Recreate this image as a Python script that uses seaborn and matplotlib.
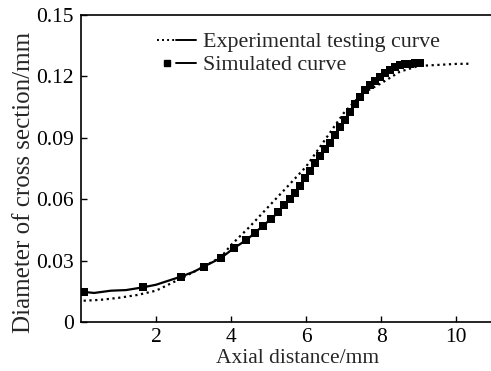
import numpy as np
import pandas as pd
import matplotlib
matplotlib.use("Agg")
import matplotlib.pyplot as plt
import seaborn as sns
from matplotlib.lines import Line2D
from matplotlib.legend_handler import HandlerTuple

# Experimental testing curve
exp_x = [0.07, 0.5, 1.0, 1.5, 2.0, 2.67, 3.27, 3.74, 4.0, 4.5, 5.0, 5.5, 6.0, 6.5, 7.0, 7.5, 8.0, 8.5, 9.0, 9.5, 10.0, 10.4]
exp_y = [0.0104, 0.0108, 0.0118, 0.0132, 0.0153, 0.0213, 0.0270, 0.0319, 0.0376, 0.0466, 0.0564, 0.0661, 0.0759, 0.0889, 0.1020, 0.1117, 0.1166, 0.1223, 0.1251, 0.1256, 0.1261, 0.1262]

# Simulated curve (line points; marker flags)
sim_x = [0.07, 0.35, 0.8, 1.2, 1.64, 2.0, 2.3, 2.67, 3.0, 3.27, 3.74, 4.07, 4.41, 4.64, 4.84, 5.06, 5.26, 5.41,
         5.57, 5.70, 5.84, 5.97, 6.10, 6.24, 6.37, 6.50, 6.64, 6.77, 6.90, 7.04, 7.17, 7.30, 7.44, 7.57,
         7.70, 7.84, 7.97, 8.10, 8.24, 8.37, 8.50, 8.64, 8.77, 8.91, 9.04]
sim_y = [0.0147, 0.0142, 0.0153, 0.0156, 0.0169, 0.0182, 0.0200, 0.0222, 0.0245, 0.0270, 0.0314, 0.0360, 0.0401,
         0.0436, 0.0469, 0.0502, 0.0537, 0.0572, 0.0601, 0.0632, 0.0666, 0.0702, 0.0739, 0.0775, 0.0811,
         0.0844, 0.0876, 0.0914, 0.0951, 0.0987, 0.1028, 0.1065, 0.1101, 0.1134, 0.1158, 0.1178, 0.1195,
         0.1215, 0.1231, 0.1244, 0.1254, 0.1259, 0.1262, 0.1264, 0.1264]
sim_marked = [True, False, False, False, True, False, False, True, False, True] + [True] * 35

x_ticks = [2, 4, 6, 8, 10]
y_ticks = [0, 0.03, 0.06, 0.09, 0.12, 0.15]
y_tick_labels = ["0", "0.03", "0.06", "0.09", "0.12", "0.15"]
x_label = "Axial distance/mm"
y_label = "Diameter of cross section/mm"
legend_labels = ["Experimental testing curve", "Simulated curve"]

sns.set_style("ticks")
plt.rcParams["font.family"] = ["Liberation Serif", "DejaVu Serif"]
plt.rcParams["xtick.direction"] = "in"
plt.rcParams["ytick.direction"] = "in"

fig = plt.figure(figsize=(4.91, 3.71), dpi=100)
ax = fig.add_axes([81 / 491, 49 / 371, 410 / 491, 307 / 371])

df_exp = pd.DataFrame({"x": exp_x, "y": exp_y})
df_sim = pd.DataFrame({"x": sim_x, "y": sim_y})

sns.lineplot(data=df_exp, x="x", y="y", ax=ax, color="black", linewidth=1.6,
             linestyle=(0, (1, 1.6)), sort=False)
mark_idx = [i for i, m in enumerate(sim_marked) if m]
sns.lineplot(data=df_sim, x="x", y="y", ax=ax, color="black", linewidth=1.6,
             marker="s", markersize=6.3, markevery=mark_idx, markeredgecolor="black",
             markeredgewidth=0, sort=False)

ax.set_xlim(0, 10.93)
ax.set_ylim(0, 0.15)
ax.set_xticks(x_ticks)
ax.set_xticklabels([str(t) for t in x_ticks])
ax.set_yticks(y_ticks)
ax.set_yticklabels(y_tick_labels)
ax.tick_params(axis="both", labelsize=15.5, length=4, width=1, colors="black")
ax.tick_params(axis="y", pad=5)
ax.tick_params(axis="x", pad=4)
ax.set_xlabel(x_label, fontsize=15.5, va="top")
ax.set_ylabel(y_label, fontsize=18)
ax.xaxis.set_label_coords(0.528, -0.088)
ax.yaxis.set_label_coords(-0.112, 0.453)
for s in ["left", "bottom", "top"]:
    ax.spines[s].set_linewidth(1.2)
    ax.spines[s].set_color("black")
ax.spines["right"].set_visible(False)

h_dot = Line2D([], [], color="black", linewidth=1.4, linestyle=(0, (1, 1.6)))
h_solid = Line2D([], [], color="black", linewidth=1.4)
h_mark = Line2D([], [], color="black", marker="s", markersize=4.8, linestyle="none")
leg = ax.legend([(h_dot, h_solid), (h_mark, h_solid)], legend_labels,
                handler_map={tuple: HandlerTuple(ndivide=None, pad=0)},
                loc="upper left", bbox_to_anchor=(0.186, 0.945), frameon=False,
                fontsize=15.8, handlelength=1.75, handletextpad=0.35, labelspacing=0.12,
                borderpad=0, borderaxespad=0)

fig.savefig("out.png", dpi=100)
